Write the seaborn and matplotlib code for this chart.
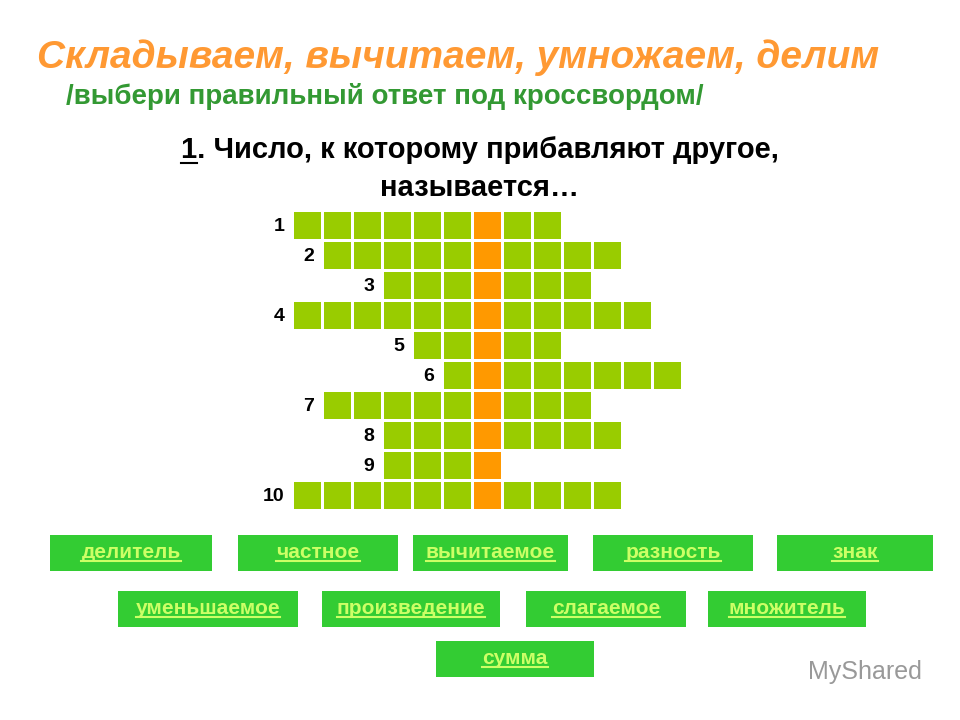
import numpy as np
import seaborn as sns
import matplotlib.pyplot as plt
from matplotlib.colors import ListedColormap
from matplotlib.patches import Rectangle
from matplotlib.lines import Line2D

# crossword rows: (row number, first column, number of cells); key column = 6
row_nums = [1, 2, 3, 4, 5, 6, 7, 8, 9, 10]
row_start = [0, 1, 3, 0, 4, 5, 1, 3, 3, 0]
row_len = [9, 10, 7, 12, 5, 8, 9, 8, 4, 11]
key_col = 6
n_cols = 13

answers_row1 = ["делитель", "частное", "вычитаемое", "разность", "знак"]
answers_row2 = ["уменьшаемое", "произведение", "слагаемое", "множитель"]
answers_row3 = ["сумма"]

grid = np.zeros((len(row_nums), n_cols))
for i, (s, n) in enumerate(zip(row_start, row_len)):
    grid[i, s:s + n] = 1
    grid[i, key_col] = 2

W, H = 960, 720
fig = plt.figure(figsize=(9.6, 7.2), dpi=100)
fig.patch.set_facecolor("white")

def px(x, y):
    return x / W, 1 - y / H

ax = fig.add_axes([292 / W, 1 - 510 / H, 390 / W, 300 / H])
sns.heatmap(grid, mask=grid == 0, cmap=ListedColormap(["#99CC00", "#FF9900"]),
            vmin=0.5, vmax=2.5, cbar=False, linewidths=1, linecolor="white",
            ax=ax, square=False)
ax.set_xticks([])
ax.set_yticks([])
for i, (num, s) in enumerate(zip(row_nums, row_start)):
    ax.text(s - 0.25, i + 0.55, str(num), ha="right", va="center",
            fontsize=14, fontweight="bold", family="Liberation Sans")

fig.text(*px(37, 58), "Складываем, вычитаем, умножаем, делим", color="#FF9933",
         fontsize=28, fontweight="bold", style="italic", va="center",
         family="Liberation Sans")
fig.text(*px(66, 97), "/выбери правильный ответ под кроссвордом/", color="#339933",
         fontsize=20, fontweight="bold", va="center", family="Liberation Sans")
q1 = fig.text(*px(480, 150), "1. Число, к которому прибавляют другое,", fontsize=21,
              fontweight="bold", ha="center", va="center", family="Liberation Sans")
fig.text(*px(480, 188), "называется…", fontsize=21, fontweight="bold",
         ha="center", va="center", family="Liberation Sans")

buttons = [(answers_row1, [(50, 212), (238, 398), (413, 568), (593, 753), (777, 933)], 535),
           (answers_row2, [(118, 298), (322, 500), (526, 686), (708, 866)], 591),
           (answers_row3, [(436, 594)], 641)]
labels = []
for words, spans, top in buttons:
    for w, (x0, x1) in zip(words, spans):
        fig.add_artist(Rectangle((x0 / W, 1 - (top + 36) / H), (x1 - x0) / W, 36 / H,
                                 facecolor="#33CC33", edgecolor="none"))
        t = fig.text(*px((x0 + x1) / 2, top + 23), w, color="#CCFF66", fontsize=15,
                     fontweight="bold", ha="center", va="baseline", family="Liberation Sans")
        labels.append((t, top + 26))

fig.text(*px(808, 672), "MyShared", color="#999999", fontsize=18, va="center",
         family="Liberation Sans")

fig.canvas.draw()
r = fig.canvas.get_renderer()
inv = fig.transFigure.inverted()
for t, yline in labels:
    bb = t.get_window_extent(r).transformed(inv)
    fig.add_artist(Line2D([bb.x0, bb.x1], [1 - yline / H] * 2, color="#CCFF66", lw=1.5))
bb = q1.get_window_extent(r).transformed(inv)
one_w = 21 * 0.556 * 100 / 72 / W
fig.add_artist(Line2D([bb.x0, bb.x0 + one_w], [1 - 163 / H] * 2, color="black", lw=1.5))

fig.savefig("out.png", dpi=100, facecolor="white")
